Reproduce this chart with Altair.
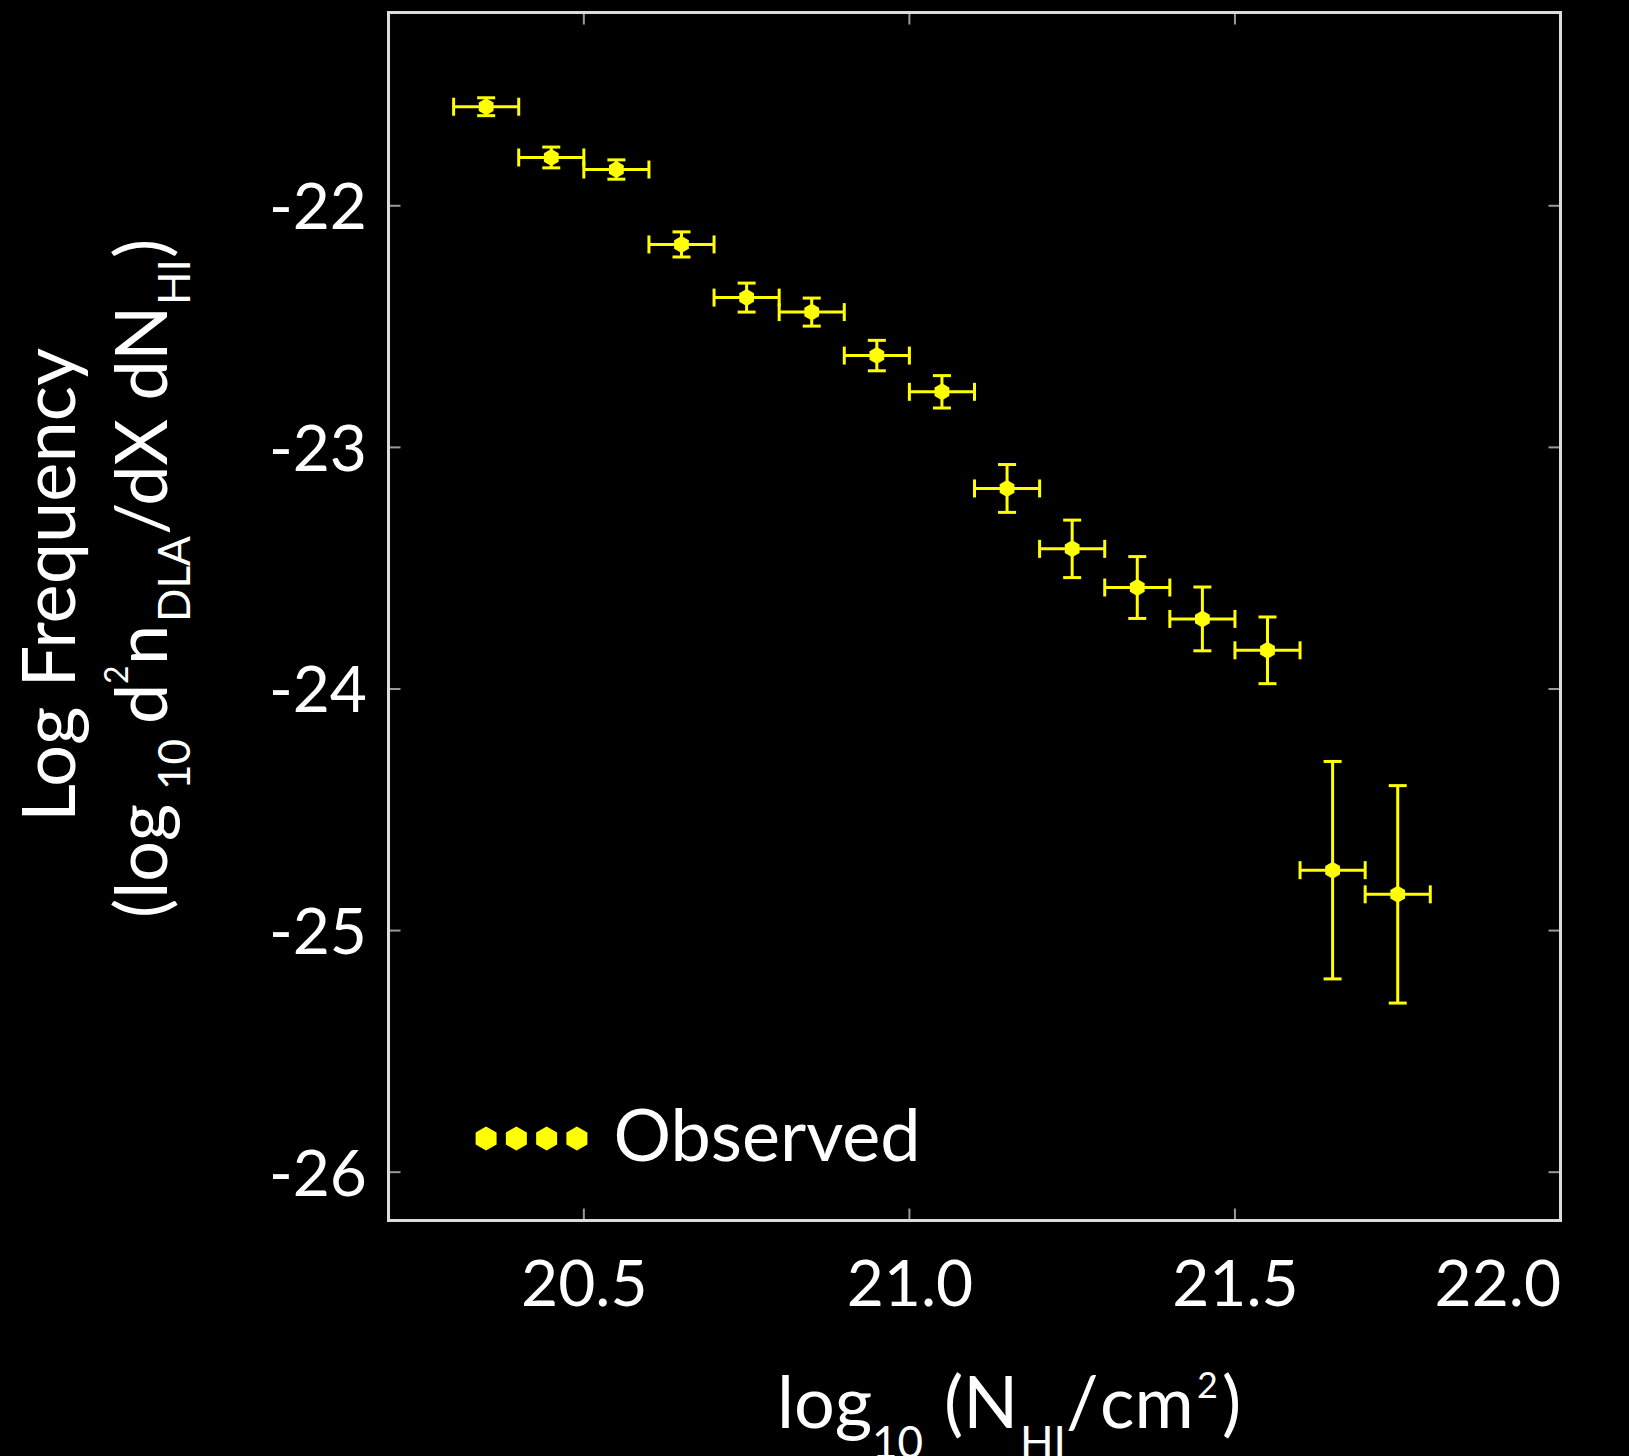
import altair as alt
import pandas as pd

# ---------------- data ----------------
nhi = [20.35, 20.45, 20.55, 20.65, 20.75, 20.85, 20.95, 21.05,
       21.15, 21.25, 21.35, 21.45, 21.55, 21.65, 21.75]
log_f = [-21.59, -21.80, -21.85, -22.16, -22.38, -22.44, -22.62, -22.77,
         -23.17, -23.42, -23.58, -23.71, -23.84, -24.75, -24.85]
f_err = [0.037, 0.043, 0.040, 0.052, 0.060, 0.058, 0.063, 0.067,
         0.099, 0.119, 0.128, 0.132, 0.138, 0.450, 0.450]
bin_half = [0.05, 0.05, 0.05, 0.05, 0.05, 0.05, 0.05, 0.05,
            0.05, 0.05, 0.05, 0.05, 0.05, 0.05, 0.05]
series = "Observed"
x_ticks = [20.5, 21.0, 21.5, 22.0]
y_ticks = [-26, -25, -24, -23, -22]

df = pd.DataFrame({
    "x": nhi, "y": log_f,
    "xlo": [a - b for a, b in zip(nhi, bin_half)],
    "xhi": [a + b for a, b in zip(nhi, bin_half)],
    "ylo": [a - b for a, b in zip(log_f, f_err)],
    "yhi": [a + b for a, b in zip(log_f, f_err)],
    "series": [series] * len(nhi),
})
xt = pd.DataFrame({"v": x_ticks})
yt = pd.DataFrame({"v": y_ticks})
one = pd.DataFrame({"k": [0]})

# ---------------- style ----------------
FONT = "Lato"
YEL = "#ffff00"
FRAME = "#dcdcdc"
W, H = 1172, 1208
OX, OY = 388.5, 12.5

xs = alt.Scale(domain=[20.2, 22.0], nice=False, zero=False)
ys = alt.Scale(domain=[-26.2, -21.2], nice=False, zero=False)
xaxis = alt.Axis(values=x_ticks, labelExpr="format(datum.value, '.1f')", title=None,
                 ticks=False, domain=False, grid=False, labelFont=FONT, labelFontSize=64,
                 labelColor="white", labelPadding=34)
yaxis = alt.Axis(values=y_ticks, labelExpr="'' + datum.value", title=None,
                 ticks=False, domain=False, grid=False, labelFont=FONT, labelFontSize=64,
                 labelColor="white", labelPadding=22, labelOffset=4)


def X(f):
    return alt.X(f, type="quantitative", scale=xs, axis=xaxis)


def Y(f):
    return alt.Y(f, type="quantitative", scale=ys, axis=yaxis)


base = alt.Chart(df)
hbars = base.mark_rule(color=YEL, strokeWidth=3).encode(x=X("xlo"), x2="xhi", y=Y("y"))
vbars = base.mark_rule(color=YEL, strokeWidth=3).encode(x=X("x"), y=Y("ylo"), y2="yhi")
cap_lo = base.mark_tick(orient="horizontal", size=18, thickness=3, color=YEL, opacity=1).encode(x=X("x"), y=Y("ylo"))
cap_hi = base.mark_tick(orient="horizontal", size=18, thickness=3, color=YEL, opacity=1).encode(x=X("x"), y=Y("yhi"))
cap_l = base.mark_tick(orient="vertical", size=18, thickness=3, color=YEL, opacity=1).encode(x=X("xlo"), y=Y("y"))
cap_r = base.mark_tick(orient="vertical", size=18, thickness=3, color=YEL, opacity=1).encode(x=X("xhi"), y=Y("y"))

HEX = "M0,-1L0.866,-0.5L0.866,0.5L0,1L-0.866,0.5L-0.866,-0.5Z"
legend_path = ""
for cx in (-3.75, -1.25, 1.25, 3.75):
    legend_path += (f"M{cx},-1L{cx + 0.866:.3f},-0.5L{cx + 0.866:.3f},0.5L{cx},1"
                    f"L{cx - 0.866:.3f},0.5L{cx - 0.866:.3f},-0.5Z")

points = base.mark_point(filled=True, shape=HEX, size=290, opacity=1).encode(
    x=X("x"), y=Y("y"),
    color=alt.Color("series:N", scale=alt.Scale(range=[YEL]),
                    legend=alt.Legend(title=None, orient="none", legendX=107, legendY=1090,
                                      symbolType=legend_path, symbolSize=586,
                                      symbolStrokeWidth=0, symbolOpacity=1,
                                      labelFont=FONT, labelFontSize=72, labelColor="white",
                                      labelOffset=46, padding=0, labelLimit=600)),
)

# mirrored inward axis ticks on all four sides
ytick_l = alt.Chart(yt).mark_tick(orient="horizontal", size=12, thickness=2, color=FRAME).encode(
    x=alt.value(6), y=Y("v"))
ytick_r = alt.Chart(yt).mark_tick(orient="horizontal", size=12, thickness=2, color=FRAME).encode(
    x=alt.value(W - 6), y=Y("v"))
xtick_b = alt.Chart(xt).mark_tick(orient="vertical", size=12, thickness=2, color=FRAME).encode(
    x=X("v"), y=alt.value(H - 6))
xtick_t = alt.Chart(xt).mark_tick(orient="vertical", size=12, thickness=2, color=FRAME).encode(
    x=X("v"), y=alt.value(6))


def seg(text, size, px, py, angle=0):
    return alt.Chart(one).mark_text(
        text=text, font=FONT, fontSize=size, color="white",
        align="left", baseline="alphabetic", angle=angle,
    ).encode(x=alt.value(px - OX), y=alt.value(py - OY))


# x-axis title: log10 (N_HI / cm^2)
xtitle = [
    seg("log", 72, 777, 1428),
    seg("10", 44, 872, 1458),
    seg("(N", 72, 944, 1428),
    seg("HI", 44, 1020, 1458),
    seg("/", 72, 1066, 1428),
    seg("cm", 72, 1100, 1428),
    seg("2", 36, 1197, 1398),
    seg(")", 72, 1222, 1428),
]
# y-axis title (rotated)
ytitle = [
    seg("Log Frequency", 74, 75, 822, 270),
    seg("(log", 72, 167, 918, 270),
    seg("10", 44, 190, 790, 270),
    seg("d", 72, 167, 724, 270),
    seg("2", 32, 128, 684, 270),
    seg("n", 72, 167, 665, 270),
    seg("DLA", 44, 190, 622, 270),
    seg("/dX dN", 72, 167, 535, 270),
    seg("HI", 44, 190, 305, 270),
    seg(")", 72, 167, 258, 270),
]

chart = alt.layer(
    ytick_l, ytick_r, xtick_b, xtick_t,
    hbars, vbars, cap_lo, cap_hi, cap_l, cap_r, points,
    *xtitle, *ytitle,
).properties(
    width=W, height=H,
    padding={"left": OX, "top": OY, "right": 1629 - OX - W, "bottom": 1456 - OY - H},
    autosize=alt.AutoSizeParams(type="none"),
    background="black",
).configure_view(stroke=FRAME, strokeWidth=3)

chart.save("out.html", embed_options={"renderer": "svg", "actions": False})
